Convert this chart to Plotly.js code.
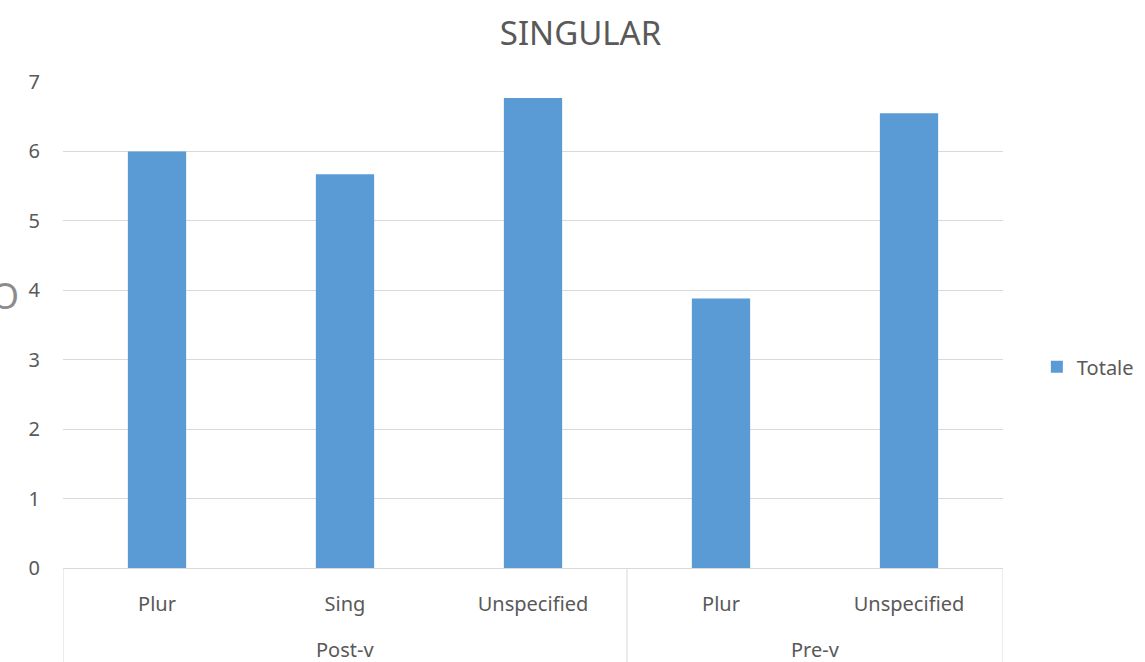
<!DOCTYPE html>
<html>
<head>
<meta charset="utf-8">
<script src="https://cdn.plot.ly/plotly-3.0.1.min.js"></script>
<style>
  html, body { margin: 0; padding: 0; background: #ffffff; }
  #chart { width: 1145px; height: 662px; }
</style>
</head>
<body>
<div id="chart"></div>
<script>
// Subcategory labels, their parent groups and the "Totale" values
const subLabels = ["Plur", "Sing", "Unspecified", "Plur", "Unspecified"];
const groupOf   = ["Post-v", "Post-v", "Post-v", "Pre-v", "Pre-v"];
const totale    = [6.0, 5.67, 6.77, 3.88, 6.55];
const yTicks    = [0, 1, 2, 3, 4, 5, 6, 7];

const FONT = "Noto Sans, Open Sans, sans-serif";
const GREY = "#595959";
const idx = subLabels.map((_, i) => i);

// Work out the span of each group along the category axis
const groups = [];
groupOf.forEach((g, i) => {
  const last = groups[groups.length - 1];
  if (last && last.name === g) last.end = i;
  else groups.push({ name: g, start: i, end: i });
});

const shapes = [];
const annotations = [];
groups.forEach((g, k) => {
  annotations.push({
    x: (g.start + g.end) / 2, xref: "x",
    y: -0.167, yref: "paper",
    text: g.name, showarrow: false,
    xanchor: "center", yanchor: "middle",
    font: { family: FONT, size: 20, color: GREY }
  });
  const edges = k === 0 ? [g.start - 0.5, g.end + 0.5] : [g.end + 0.5];
  edges.forEach(e => shapes.push({
    type: "line", xref: "x", yref: "paper",
    x0: e, x1: e, y0: 0, y1: -0.3,
    line: { color: "#d9d9d9", width: 1 }
  }));
});

// Partly visible glyph at the far left edge
annotations.push({
  x: 0, xref: "paper", xshift: -58, y: 0.56, yref: "paper",
  text: "O", showarrow: false, xanchor: "center", yanchor: "middle",
  font: { family: FONT, size: 36, color: "#8c8c8c" }
});

const trace = {
  type: "bar",
  name: "Totale",
  x: idx,
  y: totale,
  width: 0.31,
  marker: { color: "#5b9bd5" },
  hoverinfo: "skip"
};

const layout = {
  width: 1145, height: 662,
  paper_bgcolor: "#ffffff", plot_bgcolor: "#ffffff",
  margin: { l: 63, r: 142, t: 82, b: 94, autoexpand: false },
  title: {
    text: "SINGULAR",
    font: { family: FONT, size: 33, color: GREY },
    x: 0.507, xref: "container", xanchor: "center",
    y: 0.95, yref: "container", yanchor: "middle"
  },
  font: { family: FONT, color: GREY },
  showlegend: true,
  legend: {
    x: 1.036, xanchor: "left", y: 0.414, yanchor: "middle",
    font: { family: FONT, size: 20, color: GREY },
    itemwidth: 30, bgcolor: "rgba(0,0,0,0)"
  },
  xaxis: {
    type: "linear",
    range: [-0.5, subLabels.length - 0.5],
    tickmode: "array", tickvals: idx, ticktext: subLabels,
    ticks: "", showgrid: false, zeroline: false,
    showline: true, linecolor: "#d9d9d9", linewidth: 1,
    ticklabelstandoff: 18,
    tickfont: { family: FONT, size: 20, color: GREY },
    fixedrange: true
  },
  yaxis: {
    range: [0, 7],
    tickmode: "array", tickvals: yTicks,
    ticks: "", showline: false, zeroline: false,
    showgrid: true, gridcolor: "#d9d9d9", gridwidth: 1,
    ticklabelstandoff: 22,
    tickfont: { family: FONT, size: 20, color: GREY },
    fixedrange: true
  },
  bargap: 0.69,
  shapes: shapes,
  annotations: annotations
};

Plotly.newPlot("chart", [trace], layout, { displayModeBar: false, staticPlot: true });
</script>
</body>
</html>
